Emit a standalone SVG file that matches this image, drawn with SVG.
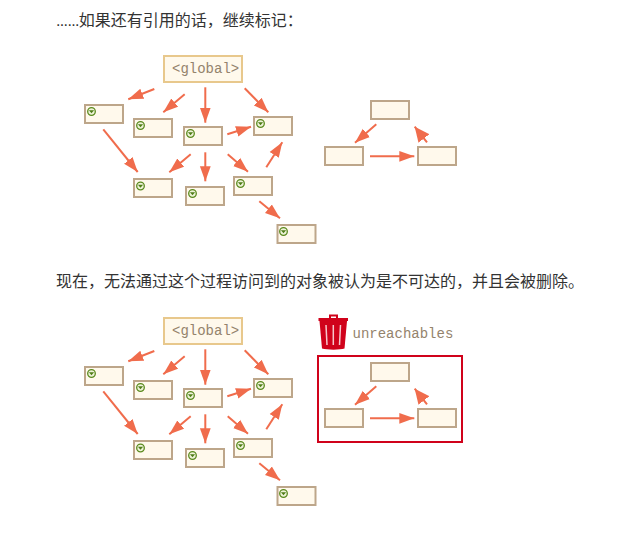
<svg xmlns="http://www.w3.org/2000/svg" width="641" height="534" viewBox="0 0 641 534">
<style>
.t{font-family:"Liberation Sans","Noto Sans CJK SC",sans-serif;font-size:16px;fill:#333}
.m{font-family:"Liberation Mono",monospace;font-size:14px;fill:#94836c}
.n{fill:#fff9ec;stroke:#bda68a;stroke-width:2}
.g{fill:#fff9ec;stroke:#e8c88c;stroke-width:2}
.c{fill:none;stroke:#f06c4c;stroke-width:2;marker-end:url(#a)}
.k{marker-end:url(#b)}
</style>
<defs>
<marker id="a" markerUnits="userSpaceOnUse" markerWidth="16" markerHeight="12" refX="15" refY="6" orient="auto"><path d="M0 .6L15 6L0 11.4Z" fill="#f06c4c"/></marker>
<marker id="b" markerUnits="userSpaceOnUse" markerWidth="16" markerHeight="16" refX="15" refY="8" orient="auto"><path d="M0 1L15 8L0 15Z" fill="#f06c4c"/></marker>
<g id="i"><circle r="3.8" fill="#eef3d8" stroke="#5a8a1e" stroke-width="1.3"/><path d="M-2.600 -1.200L0 1.800L2.600 -1.200Z" fill="#4f7d18"/></g>
</defs>
<text x="56" y="26" class="t"><tspan letter-spacing="-.65">......</tspan>如果还有引用的话，继续标记：</text>
<text x="56" y="287" class="t">现在，无法通过这个过程访问到的对象被认为是不可达的，并且会被删除。</text>
<g id="connectors-1">
<path class="c" d="M154.300 89L128.300 99.300"/>
<path class="c" d="M184.700 94.300L163.300 112.300"/>
<path class="c" d="M205.300 87.300V122.700"/>
<path class="c" d="M244.700 88.300L268.300 112.300"/>
<path class="c" d="M227.300 134.300L251 126.700"/>
<path class="c" d="M103.300 129.300L137.700 172"/>
<path class="c" d="M190.700 154.300L169.300 172.300"/>
<path class="c" d="M205.300 152.300V181.300"/>
<path class="c" d="M227.700 154.300L248 171.700"/>
<path class="c" d="M266.300 167.300L282.300 142.300"/>
<path class="c" d="M259.300 201.300L280 218.300"/>
<path class="c" d="M376.300 124.300L355 142.700"/>
<path class="c" d="M370 156.300H414.300"/>
<path class="c k" d="M427 142.300L414.700 126.700"/>
</g>
<g id="global-1"><rect x="164" y="56" width="78" height="26" class="g"/><text x="172" y="73" class="m">&lt;global&gt;</text></g>
<g id="a1"><rect x="85" y="105" width="38" height="18" class="n"/><use href="#i" x="91.500" y="111.500"/></g>
<g id="b1"><rect x="134" y="119" width="38" height="18" class="n"/><use href="#i" x="140.500" y="125.500"/></g>
<g id="c1"><rect x="184" y="127" width="38" height="18" class="n"/><use href="#i" x="190.500" y="133.500"/></g>
<g id="d1"><rect x="254" y="117" width="38" height="18" class="n"/><use href="#i" x="260.500" y="123.500"/></g>
<g id="e1"><rect x="134" y="179" width="38" height="18" class="n"/><use href="#i" x="140.500" y="186"/></g>
<g id="f1"><rect x="186" y="187" width="38" height="18" class="n"/><use href="#i" x="192.500" y="193.500"/></g>
<g id="g1"><rect x="234" y="177" width="38" height="18" class="n"/><use href="#i" x="240.500" y="183.500"/></g>
<g id="h1"><rect x="277.500" y="225" width="38" height="18" class="n"/><use href="#i" x="283.500" y="231.500"/></g>
<g id="p1"><rect x="371" y="101" width="38" height="18" class="n"/></g>
<g id="q1"><rect x="325" y="147" width="38" height="18" class="n"/></g>
<g id="r1"><rect x="418" y="147" width="38" height="18" class="n"/></g>
<g id="connectors-2" transform="translate(0 262)">
<path class="c" d="M154.300 89L128.300 99.300"/>
<path class="c" d="M184.700 94.300L163.300 112.300"/>
<path class="c" d="M205.300 87.300V122.700"/>
<path class="c" d="M244.700 88.300L268.300 112.300"/>
<path class="c" d="M227.300 134.300L251 126.700"/>
<path class="c" d="M103.300 129.300L137.700 172"/>
<path class="c" d="M190.700 154.300L169.300 172.300"/>
<path class="c" d="M205.300 152.300V181.300"/>
<path class="c" d="M227.700 154.300L248 171.700"/>
<path class="c" d="M266.300 167.300L282.300 142.300"/>
<path class="c" d="M259.300 201.300L280 218.300"/>
<path class="c" d="M376.300 124.300L355 142.700"/>
<path class="c" d="M370 156.300H414.300"/>
<path class="c k" d="M427 142.300L414.700 126.700"/>
</g>
<g id="global-2"><rect x="164" y="318" width="78" height="26" class="g"/><text x="172" y="335" class="m">&lt;global&gt;</text></g>
<g id="a2"><rect x="85" y="367" width="38" height="18" class="n"/><use href="#i" x="91.500" y="373.500"/></g>
<g id="b2"><rect x="134" y="381" width="38" height="18" class="n"/><use href="#i" x="140.500" y="387.500"/></g>
<g id="c2"><rect x="184" y="389" width="38" height="18" class="n"/><use href="#i" x="190.500" y="395.500"/></g>
<g id="d2"><rect x="254" y="379" width="38" height="18" class="n"/><use href="#i" x="260.500" y="385.500"/></g>
<g id="e2"><rect x="134" y="441" width="38" height="18" class="n"/><use href="#i" x="140.500" y="448"/></g>
<g id="f2"><rect x="186" y="449" width="38" height="18" class="n"/><use href="#i" x="192.500" y="455.500"/></g>
<g id="g2"><rect x="234" y="439" width="38" height="18" class="n"/><use href="#i" x="240.500" y="445.500"/></g>
<g id="h2"><rect x="277.500" y="487" width="38" height="18" class="n"/><use href="#i" x="283.500" y="493.500"/></g>
<g id="p2"><rect x="371" y="363" width="38" height="18" class="n"/></g>
<g id="q2"><rect x="325" y="409" width="38" height="18" class="n"/></g>
<g id="r2"><rect x="418" y="409" width="38" height="18" class="n"/></g>
<g id="trash">
<path d="M318.500 318H348V321H318.500Z M329 318V314.500H338V318H336V316.500H331V318Z" fill="#d0021b"/>
<path d="M319.500 321H347L344.500 348.500C340 350 327 350 322 348.500Z" fill="#d0021b"/>
<path d="M326 325L327 345M333.300 325V345M340.500 325L339.500 345" stroke="#f6c6cc" stroke-width="1.500" fill="none"/>
</g>
<text x="352.500" y="338" class="m">unreachables</text>
<rect id="box" x="318" y="356" width="144" height="86" fill="none" stroke="#d0021b" stroke-width="2"/>
</svg>
